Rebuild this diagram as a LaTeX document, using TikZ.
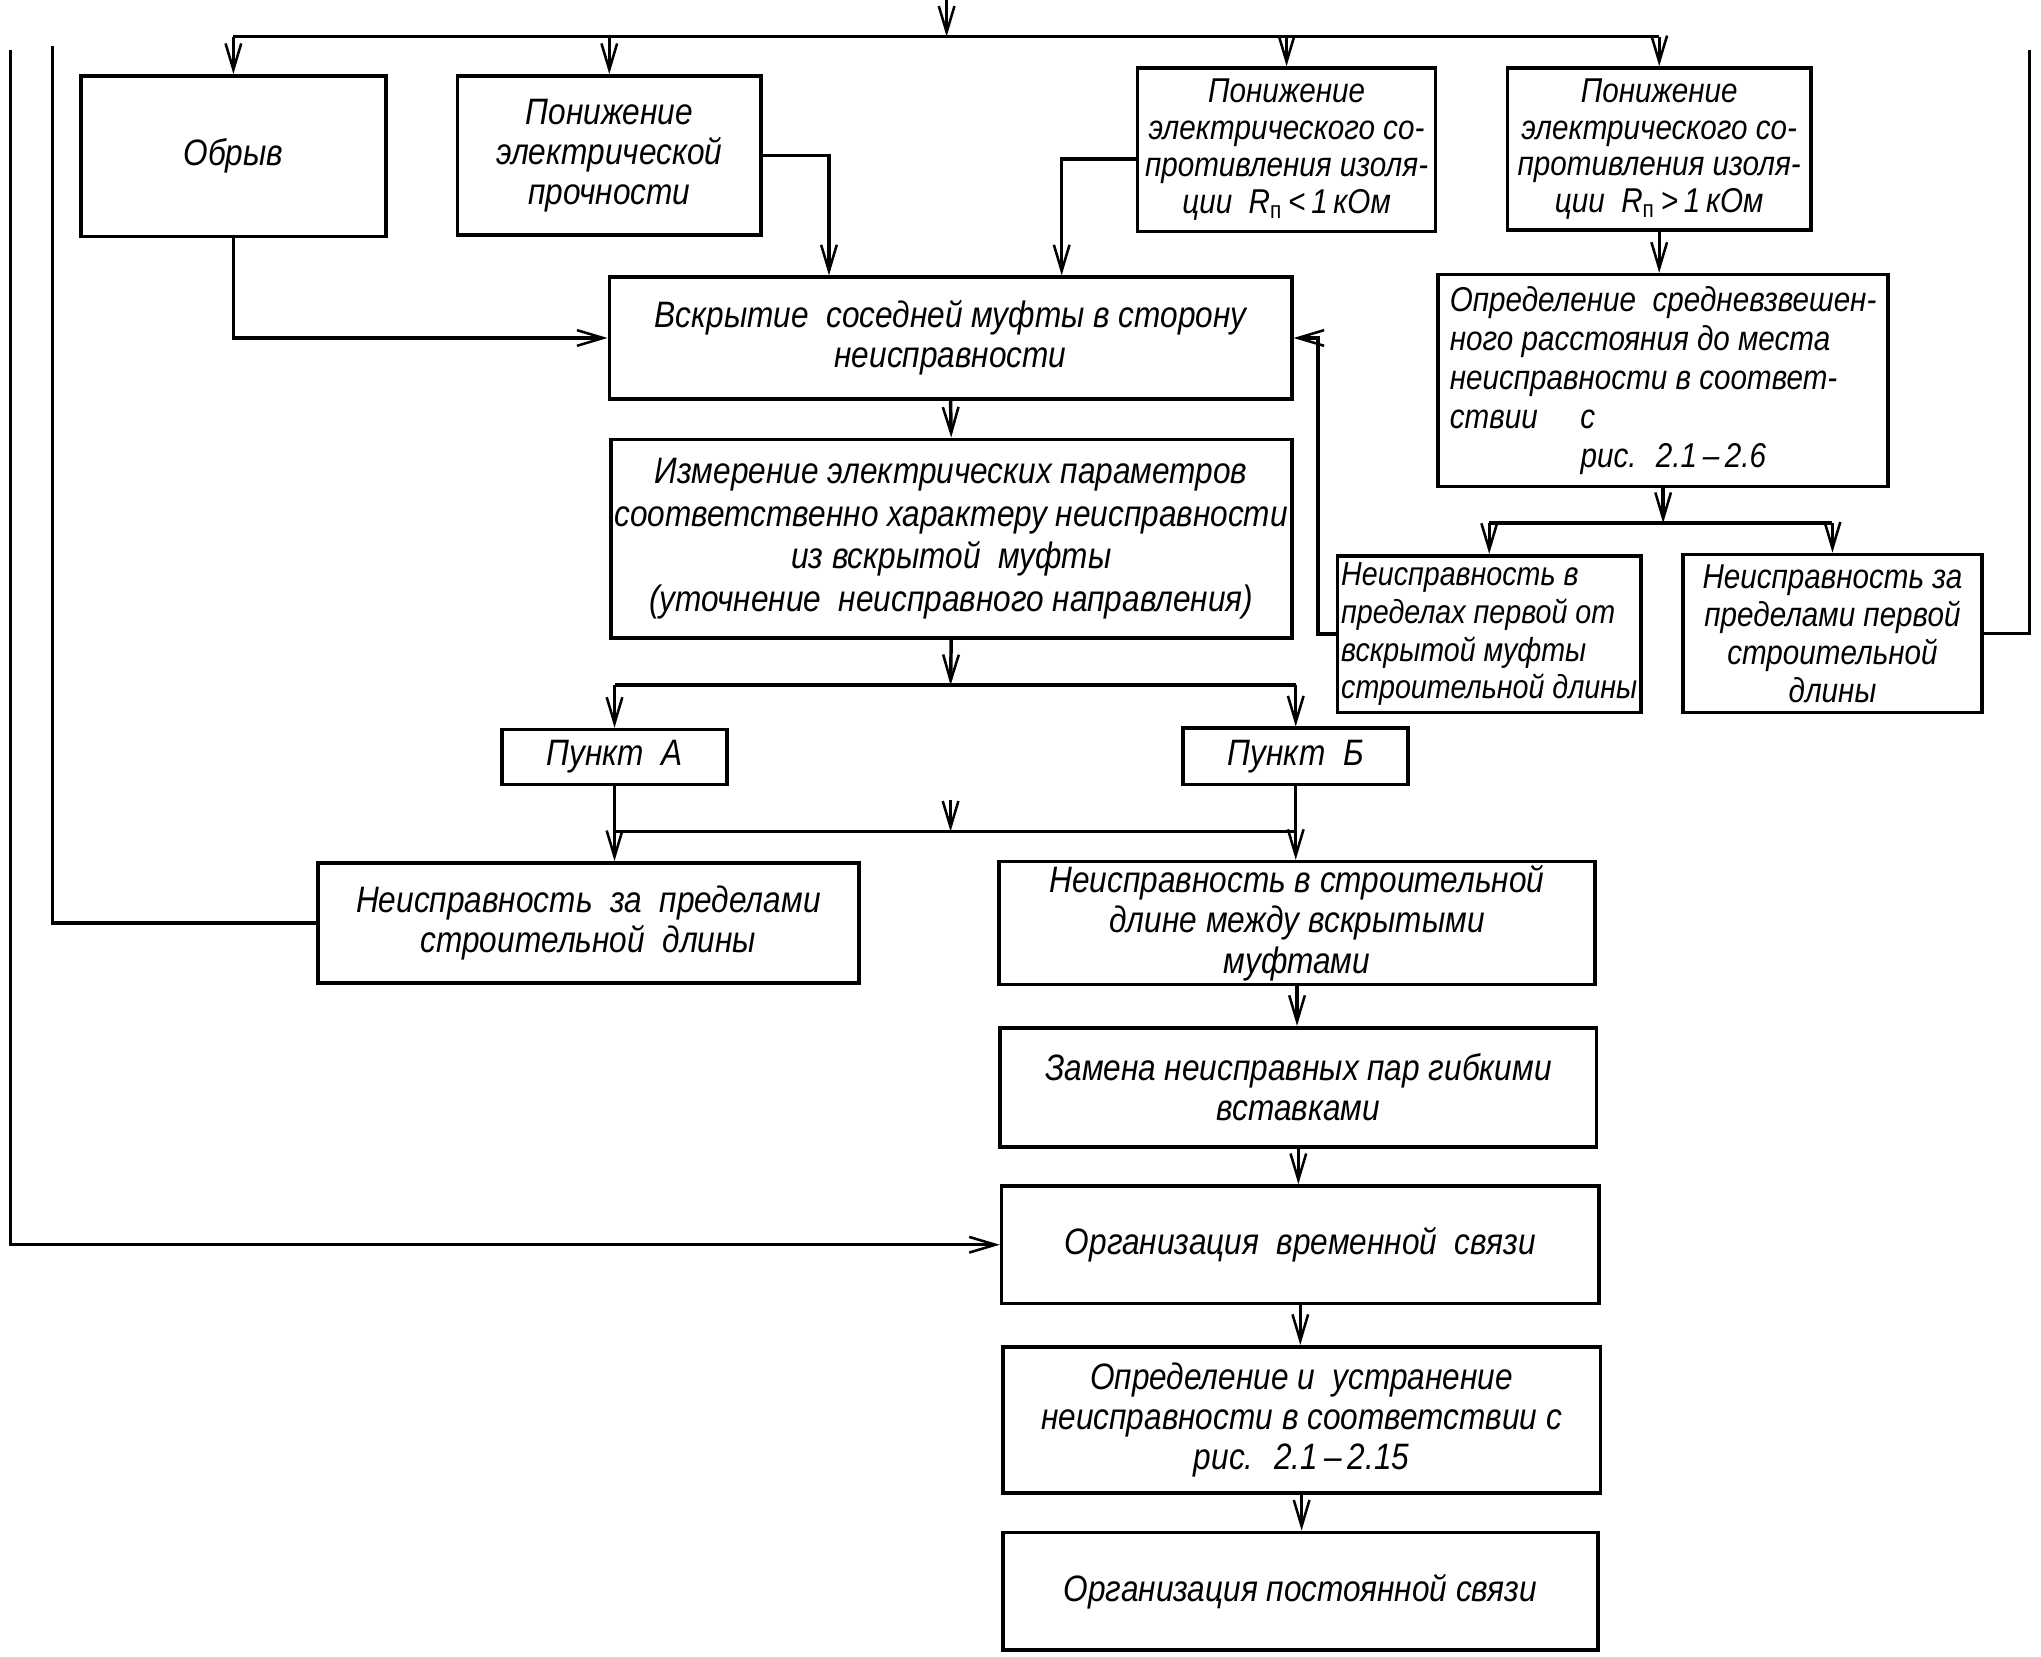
\documentclass[tikz,border=0pt]{standalone}
\usepackage{fontspec}
\newfontfamily\gost{Liberation Sans}[FakeStretch=0.86]
\usetikzlibrary{arrows.meta,calc}
\begin{document}
\begin{tikzpicture}[x=0.02cm,y=-0.02cm,
  box/.style={draw, line width=1.6pt, inner sep=1pt, align=center,
    font=\gost\itshape\fontsize{16}{17.5}\selectfont},
  ln/.style={line width=1.5pt},
  arr/.style={line width=1.5pt, -{Straight Barb[length=0.40cm,width=0.24cm,line width=1.1pt]}},
]
\useasboundingbox (0,0) rectangle (1561,1267);

\node[box, minimum width=4.66cm, minimum height=2.46cm] (b1) at (178.5,119.5) {Обрыв};
\node[box, minimum width=4.64cm, minimum height=2.44cm] (b2) at (466,119) {Понижение\\электрической\\прочности};
\node[box, minimum width=4.56cm, minimum height=2.50cm, font=\gost\itshape\fontsize{15}{16}\selectfont] (b3) at (984,114.5) {Понижение\\электрического со-\\противления изоля-\\ции \ R\textsubscript{\upshape п}\,<\,1\,кОм};
\node[box, minimum width=4.64cm, minimum height=2.48cm, font=\gost\itshape\fontsize{15}{16}\selectfont] (b4) at (1269,114) {Понижение\\электрического со-\\противления изоля-\\ции \ R\textsubscript{\upshape п}\,>\,1\,кОм};
\node[box, minimum width=10.44cm, minimum height=1.86cm] (b5) at (727,258.5) {Вскрытие \ соседней муфты в сторону\\неисправности};
\node[box, minimum width=6.88cm, minimum height=3.24cm, align=left, font=\gost\itshape\fontsize{15}{17}\selectfont] (b6) at (1272,291) {Определение \ средневзвешен-\\ного расстояния до места\\неисправности в соответ-\\ствии \quad с\\\hspace*{2.0cm}рис. \ 2.1\,–\,2.6};
\node[box, minimum width=10.42cm, minimum height=3.04cm, font=\gost\itshape\fontsize{16}{18.5}\selectfont] (b7) at (727.5,412) {Измерение электрических параметров\\соответственно характеру неисправности\\из вскрытой \ муфты\\(уточнение \ неисправного направления)};
\node[box, minimum width=4.64cm, minimum height=2.40cm, align=left, font=\gost\itshape\fontsize{14.5}{16.5}\selectfont] (b8) at (1139,485) {Неисправность в\\пределах первой от\\вскрытой муфты\\строительной длины};
\node[box, minimum width=4.58cm, minimum height=2.42cm, font=\gost\itshape\fontsize{15}{16.5}\selectfont] (b9) at (1401.5,484.5) {Неисправность за\\пределами первой\\строительной\\длины};
\node[box, minimum width=3.44cm, minimum height=0.84cm] (pA) at (470,579) {Пункт \ А};
\node[box, minimum width=3.44cm, minimum height=0.86cm] (pB) at (991,578.5) {Пункт \ Б};
\node[box, minimum width=8.28cm, minimum height=1.84cm] (b12) at (450,706) {Неисправность \ за \ пределами\\строительной \ длины};
\node[box, minimum width=9.12cm, minimum height=1.88cm] (b13) at (992,706) {Неисправность в строительной\\длине между вскрытыми\\муфтами};
\node[box, minimum width=9.12cm, minimum height=1.82cm] (b14) at (993,831.5) {Замена неисправных пар гибкими\\вставками};
\node[box, minimum width=9.14cm, minimum height=1.80cm] (b15) at (994.5,952) {Организация \ временной \ связи};
\node[box, minimum width=9.14cm, minimum height=2.24cm] (b16) at (995.5,1086) {Определение и \ устранение\\неисправности в соответствии с\\рис. \ 2.1\,–\,2.15};
\node[box, minimum width=9.10cm, minimum height=1.80cm] (b17) at (994.5,1217) {Организация постоянной связи};

% coordinates
\coordinate (in) at (724,0);
\coordinate (top) at (724,28);
\coordinate (x2) at (634,0);
\coordinate (x3) at (812,0);
\coordinate (x8) at (1008,0);
\coordinate (bus3) at (1268,400);
\coordinate (bus1) at (727,524);
\coordinate (bus2) at (727,636);
\coordinate (s2) at (727,612);
\coordinate (rtop) at (1552,38);
\coordinate (ltop) at (40,35);
\coordinate (lltop) at (8,38);

% top distribution
\draw[arr] (in) -- (top);
\draw[ln] (top -| b1.north) -- (top -| b4.north);
\draw[arr] (top -| b1.north) -- (b1.north);
\draw[arr] (top -| b2.north) -- (b2.north);
\draw[arr] (top -| b3.north) -- (b3.north);
\draw[arr] (top -| b4.north) -- (b4.north);

% into b5
\draw[arr] (b1.south) |- (b5.west);
\draw[arr] (b2.east) -| (x2 |- b5.north);
\draw[arr] ([yshift=-0.14cm]b3.west) -| (x3 |- b5.north);
\draw[arr] (b8.west) -| (x8 |- b5.east) -- (b5.east);

% right branch
\draw[arr] (b4.south) -- (b4.south |- b6.north);
\draw[arr] (b6.south) -- (b6.south |- bus3);
\draw[ln] (b8.north |- bus3) -- (b9.north |- bus3);
\draw[arr] (b8.north |- bus3) -- (b8.north);
\draw[arr] (b9.north |- bus3) -- (b9.north);
\draw[ln] (b9.east) -| (rtop);

% middle
\draw[arr] (b5.south) -- (b7.north);
\draw[arr] (b7.south) -- (bus1);
\draw[ln] (pA.north |- bus1) -- (pB.north |- bus1);
\draw[arr] (pA.north |- bus1) -- (pA.north);
\draw[arr] (pB.north |- bus1) -- (pB.north);
\draw[ln] (pA.south) |- (bus2) -| (pB.south);
\draw[arr] (s2) -- (bus2);
\draw[arr] (pA.south |- bus2) -- (pA.south |- b12.north);
\draw[arr] (pB.south |- bus2) -- (pB.south |- b13.north);

% left returns
\draw[ln] (b12.west) -| (ltop);
\draw[arr] (lltop) |- (b15.west);

% chain
\draw[arr] (b13.south) -- (b13.south |- b14.north);
\draw[arr] (b14.south) -- (b14.south |- b15.north);
\draw[arr] (b15.south) -- (b15.south |- b16.north);
\draw[arr] (b16.south) -- (b16.south |- b17.north);
\end{tikzpicture}
\end{document}
